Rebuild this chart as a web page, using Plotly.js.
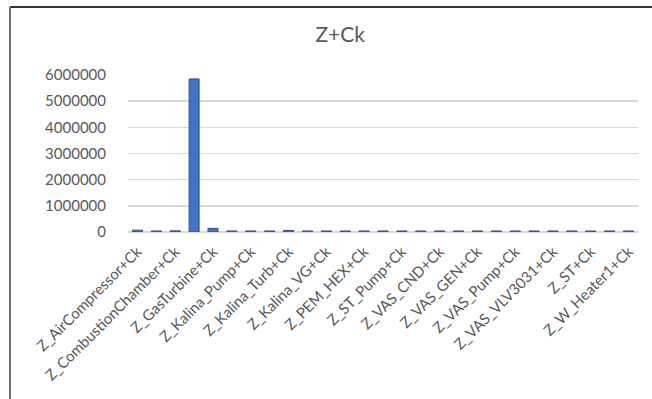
<!DOCTYPE html>
<html>
<head>
<meta charset="utf-8">
<script src="https://cdn.plot.ly/plotly-3.0.1.min.js"></script>
<style>
  html, body { margin: 0; padding: 0; background: #ffffff; }
  #chart { width: 652px; height: 399px; }
</style>
</head>
<body>
<div id="chart"></div>
<script>
// Cost components Z + Ck, one bar per component (every second one labelled on the axis)
const positions = [0, 1, 2, 3, 4, 5, 6, 7, 8, 9, 10, 11, 12, 13, 14, 15, 16, 17, 18, 19, 20, 21, 22, 23, 24, 25, 26];
const values = [70000, 40000, 45000, 5850000, 140000, 40000, 40000, 40000, 60000, 40000, 40000, 40000, 40000, 40000,
                40000, 40000, 40000, 40000, 40000, 40000, 40000, 40000, 40000, 40000, 40000, 40000, 40000];
const tickPositions = [0, 2, 4, 6, 8, 10, 12, 14, 16, 18, 20, 22, 24, 26];
const tickLabels = [
  'Z_AirCompressor+Ck', 'Z_CombustionChamber+Ck', 'Z_GasTurbine+Ck', 'Z_Kalina_Pump+Ck',
  'Z_Kalina_Turb+Ck', 'Z_Kalina_VG+Ck', 'Z_PEM_HEX+Ck', 'Z_ST_Pump+Ck', 'Z_VAS_CND+Ck',
  'Z_VAS_GEN+Ck', 'Z_VAS_Pump+Ck', 'Z_VAS_VLV3031+Ck', 'Z_ST+Ck', 'Z_W_Heater1+Ck'
];
const yTicks = [0, 1000000, 2000000, 3000000, 4000000, 5000000, 6000000];

const textColor = '#595959';
const fontFamily = 'Lato, "Open Sans", sans-serif';

const trace = {
  type: 'bar',
  x: positions,
  y: values,
  marker: { color: '#4472C4', line: { color: '#2F528F', width: 1 } },
  hoverinfo: 'x+y'
};

const layout = {
  width: 652,
  height: 399,
  margin: { l: 128, r: 14, t: 75, b: 167 },
  paper_bgcolor: '#ffffff',
  plot_bgcolor: '#ffffff',
  bargap: 0.47,
  showlegend: false,
  title: {
    text: 'Z+Ck',
    font: { family: fontFamily, size: 21, color: textColor },
    xref: 'paper', x: 0.416, xanchor: 'center',
    yref: 'container', y: 0.912, yanchor: 'middle'
  },
  xaxis: {
    range: [-0.5, 26.5],
    tickmode: 'array',
    tickvals: tickPositions,
    ticktext: tickLabels,
    tickangle: -45,
    ticks: 'outside',
    ticklen: 4,
    tickcolor: 'rgba(0,0,0,0)',
    showgrid: false,
    zeroline: false,
    showline: false,
    tickfont: { family: fontFamily, size: 15, color: textColor },
    fixedrange: true
  },
  yaxis: {
    range: [0, 6000000],
    tickmode: 'array',
    tickvals: yTicks,
    ticktext: yTicks.map(v => String(v)),
    ticks: 'outside',
    ticklen: 18,
    tickcolor: 'rgba(0,0,0,0)',
    showgrid: true,
    gridcolor: '#d9d9d9',
    gridwidth: 1.5,
    zeroline: true,
    zerolinecolor: '#d9d9d9',
    zerolinewidth: 1.5,
    showline: false,
    tickfont: { family: fontFamily, size: 15, color: textColor },
    fixedrange: true
  },
  shapes: [
    // chart frame: top and left edges
    { type: 'line', xref: 'paper', yref: 'paper', x0: -0.2314, x1: 1.03, y0: 1.433, y1: 1.433,
      line: { color: '#333333', width: 2 } },
    { type: 'line', xref: 'paper', yref: 'paper', x0: -0.2314, x1: -0.2314, y0: 1.433, y1: -1.1,
      line: { color: '#6e6e6e', width: 2 } }
  ]
};

Plotly.newPlot('chart', [trace], layout, { displayModeBar: false, staticPlot: true });
</script>
</body>
</html>
